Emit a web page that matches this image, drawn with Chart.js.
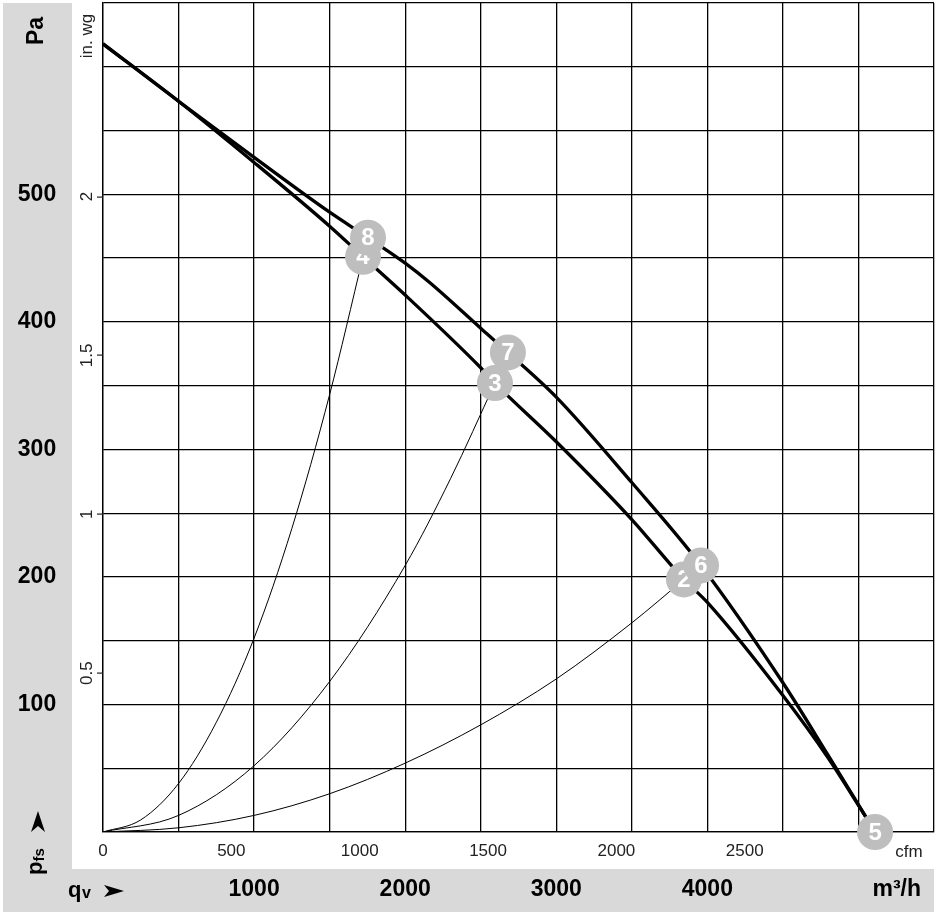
<!DOCTYPE html>
<html>
<head>
<meta charset="utf-8">
<script src="https://cdn.jsdelivr.net/npm/chart.js@4.4.0/dist/chart.umd.min.js"></script>
<style>
  body { margin: 0; background: #fff; }
  #fanChart { display: block; }
</style>
</head>
<body>
<canvas id="fanChart" width="936" height="915"></canvas>
<script>
// fan curves (qv in m3/h, pfs in Pa)
const qvUpper = [0, 500, 1000, 1500, 1754, 2000, 2160, 2500, 2680, 3000, 3500, 3958, 4500, 4800, 5110];
const pfsUpper = [618, 573, 529, 486, 466, 446, 431, 395, 376, 341, 274, 209, 117, 60, 0];

const qvLower = [0, 500, 1000, 1500, 1721, 2000, 2500, 2594, 3000, 3500, 3845, 4000, 4500, 4800, 5110];
const pfsLower = [618, 573, 525, 475, 451, 421, 364, 352, 306, 245, 198, 180, 107, 58, 0];

// system curves (thin lines from the origin)
const qvSys4 = [0, 250, 500, 750, 1000, 1250, 1500, 1721];
const pfsSys4 = [0, 9.5, 38, 86, 152, 238, 343, 451];
const qvSys3 = [0, 500, 1000, 1500, 2000, 2300, 2594];
const pfsSys3 = [0, 13, 52, 118, 209, 277, 352];
const qvSys2 = [0, 500, 1000, 1500, 2000, 2500, 3000, 3500, 3845];
const pfsSys2 = [0, 3.3, 13, 30, 54, 84, 120, 164, 198];

// operating points, in drawing order
const pointNames = ['2', '3', '4', '5', '6', '7', '8'];
const pointQv = [3845, 2594, 1721, 5110, 3958, 2680, 1754];
const pointPfs = [198, 352, 451, 0, 209, 376, 466];

// axis labels
const paTicks = [100, 200, 300, 400, 500];
const m3hTicks = [1000, 2000, 3000, 4000];
const cfmTicks = [0, 500, 1000, 1500, 2000, 2500];
const inwgTicks = [0.5, 1, 1.5, 2];

const PA_PER_INWG = 249.09
const M3H_PER_CFM = 1.699
const FONT = '"Liberation Sans", Arial, sans-serif'

const toXY = (xs, ys) => xs.map((x, i) => ({ x: x, y: ys[i] }))

function rotText(c, txt, x, y) {
  c.save()
  c.translate(x, y)
  c.rotate(-Math.PI / 2)
  c.fillText(txt, 0, 0)
  c.restore()
}

const sheetPlugin = {
  id: 'sheet',
  beforeDraw(chart) {
    const c = chart.ctx
    c.save()
    c.fillStyle = '#fff'
    c.fillRect(0, 0, chart.width, chart.height)
    c.fillStyle = '#d9d9d9'
    c.fillRect(3, 3, 69, 866)
    c.fillRect(3, 869, 931, 43)
    c.restore()
  },
  afterDatasetsDraw(chart) {
    const c = chart.ctx, xs = chart.scales.x, ys = chart.scales.y
    c.save()
    c.textAlign = 'center'
    c.textBaseline = 'middle'
    c.font = 'bold 24px ' + FONT
    pointNames.forEach((name, i) => {
      const px = xs.getPixelForValue(pointQv[i])
      const py = ys.getPixelForValue(pointPfs[i])
      c.fillStyle = '#bebebe'
      c.beginPath()
      c.arc(px, py, 18, 0, Math.PI * 2)
      c.fill()
      c.fillStyle = '#fff'
      c.fillText(name, px, py + 1)
    })
    c.restore()
  },
  afterDraw(chart) {
    const c = chart.ctx, xs = chart.scales.x, ys = chart.scales.y
    c.save()
    c.fillStyle = '#000'
    c.textAlign = 'center'
    c.textBaseline = 'middle'

    // Pa and m3/h (bold, in the grey bands)
    c.font = 'bold 23px ' + FONT
    paTicks.forEach(v => c.fillText(String(v), 37, ys.getPixelForValue(v)))
    m3hTicks.forEach(v => c.fillText(String(v), xs.getPixelForValue(v), 890))
    c.textAlign = 'right'
    c.fillText('m³/h', 921, 890)
    c.textAlign = 'center'
    rotText(c, 'Pa', 37, 31)

    // pfs with arrow
    c.save()
    c.translate(42, 875)
    c.rotate(-Math.PI / 2)
    c.textAlign = 'left'
    c.textBaseline = 'alphabetic'
    c.font = 'bold 22px ' + FONT
    c.fillText('p', 0, 0)
    const pw = c.measureText('p').width
    c.font = 'bold 15px ' + FONT
    c.fillText('fs', pw, 2)
    c.restore()
    c.beginPath()
    c.moveTo(38, 811); c.lineTo(45, 832); c.lineTo(38, 826); c.lineTo(31, 832)
    c.closePath(); c.fill()

    // qv with arrow
    c.textAlign = 'left'
    c.textBaseline = 'alphabetic'
    c.font = 'bold 22px ' + FONT
    c.fillText('q', 68, 897)
    c.font = 'bold 16px ' + FONT
    c.fillText('v', 82, 898)
    c.beginPath()
    c.moveTo(124, 891); c.lineTo(104, 885); c.lineTo(109, 891); c.lineTo(104, 897)
    c.closePath(); c.fill()

    // secondary units
    c.fillStyle = '#222'
    c.font = '17px ' + FONT
    c.textAlign = 'center'
    c.textBaseline = 'middle'
    rotText(c, 'in. wg', 87, 36)
    inwgTicks.forEach(v => {
      const py = ys.getPixelForValue(v * PA_PER_INWG)
      rotText(c, String(v), 87, py)
      c.fillRect(97, Math.round(py) - 0.5, 6, 1.2)
    })
    cfmTicks.forEach(v => c.fillText(String(v), xs.getPixelForValue(v * M3H_PER_CFM), 851))
    c.fillText('cfm', 909, 852)
    c.restore()
  }
}

function curve(xs, ys, width) {
  return {
    data: toXY(xs, ys),
    showLine: true,
    borderColor: '#000',
    borderWidth: width,
    pointRadius: 0,
    cubicInterpolationMode: 'monotone'
  }
}

new Chart(document.getElementById('fanChart'), {
  type: 'scatter',
  data: {
    datasets: [
      curve(qvSys4, pfsSys4, 1),
      curve(qvSys3, pfsSys3, 1),
      curve(qvSys2, pfsSys2, 1),
      curve(qvLower, pfsLower, 3.3),
      curve(qvUpper, pfsUpper, 3.3)
    ]
  },
  options: {
    responsive: false,
    animation: false,
    devicePixelRatio: 1,
    layout: { padding: { left: 103, top: 3, right: 2, bottom: 83 } },
    plugins: { legend: { display: false }, tooltip: { enabled: false } },
    scales: {
      x: {
        type: 'linear', min: 0, max: 5500,
        ticks: { display: false, stepSize: 500 },
        grid: { color: '#000', lineWidth: 1.3, drawTicks: false },
        border: { color: '#000', width: 1.3 },
        afterFit: s => { s.height = 0 }
      },
      y: {
        type: 'linear', min: 0, max: 650,
        ticks: { display: false, stepSize: 50 },
        grid: { color: '#000', lineWidth: 1.3, drawTicks: false },
        border: { color: '#000', width: 1.3 },
        afterFit: s => { s.width = 0 }
      }
    }
  },
  plugins: [sheetPlugin]
});
</script>
</body>
</html>
